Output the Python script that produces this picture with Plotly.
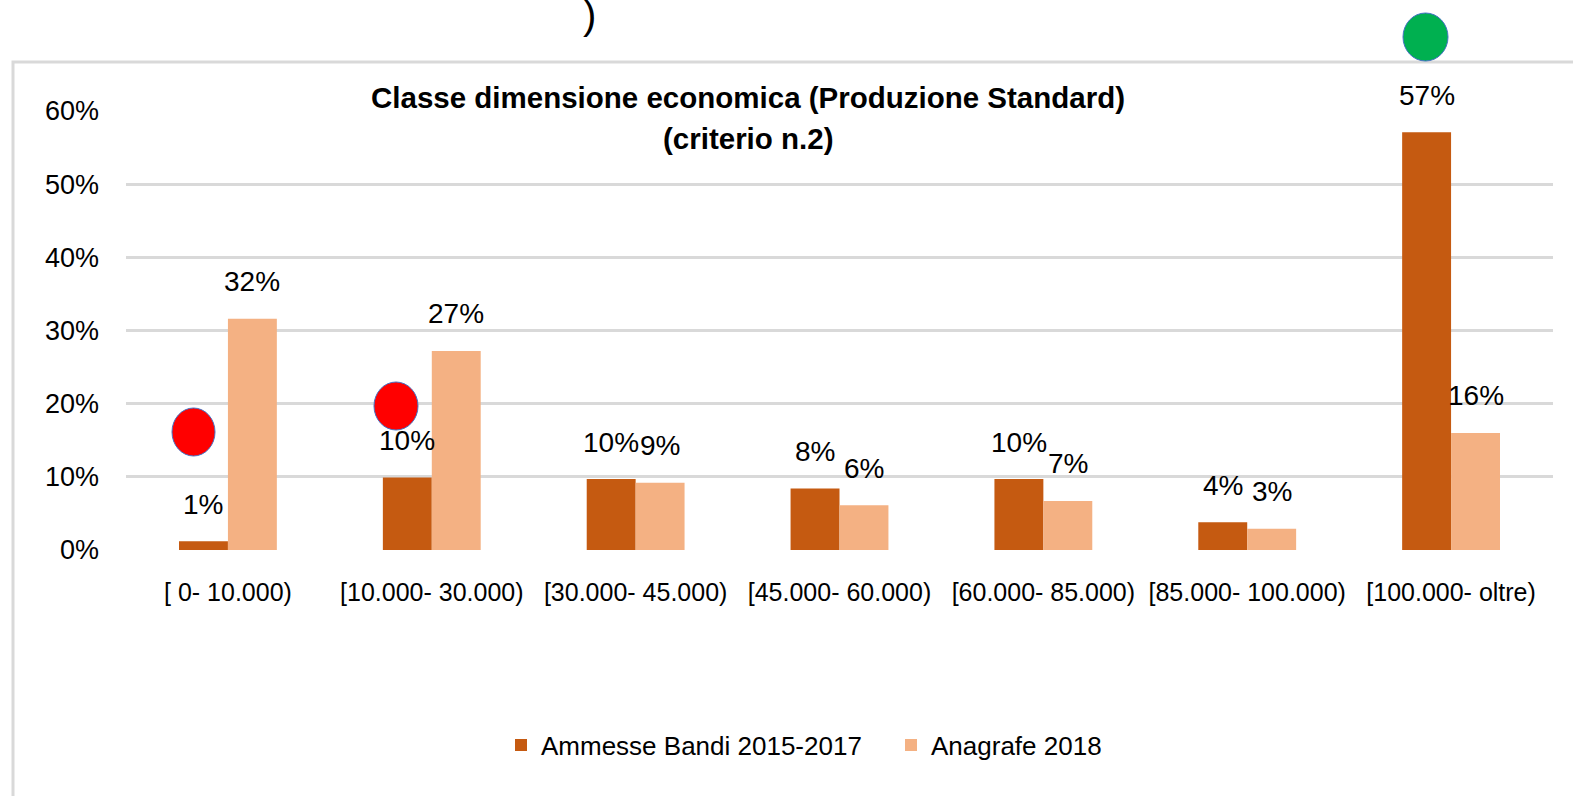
import plotly.graph_objects as go

categories = ["[ 0- 10.000)", "[10.000- 30.000)", "[30.000- 45.000)", "[45.000- 60.000)",
              "[60.000- 85.000)", "[85.000- 100.000)", "[100.000- oltre)"]
ammesse = [1.2, 9.9, 9.7, 8.4, 9.7, 3.8, 57.1]
anagrafe = [31.6, 27.2, 9.2, 6.1, 6.7, 2.9, 16.0]
series_names = ["Ammesse Bandi 2015-2017", "Anagrafe 2018"]
y_ticks = [0, 10, 20, 30, 40, 50, 60]
title_lines = ["Classe dimensione economica (Produzione Standard)", "(criterio n.2)"]

DARK = "#C55A11"
LIGHT = "#F4B183"
GRID = "#D9D9D9"
FONT = "Liberation Sans, Arial"

W, H = 1573, 796
L, R, T, B = 126, 20, 111, 246
PW, PH = W - L - R, H - T - B
BARGAP = 0.52
BW = (1 - BARGAP) / 2


def px(x):
    return (x - L) / PW


def py(y):
    return (H - B - y) / PH


fig = go.Figure()
fig.add_trace(go.Bar(name=series_names[0], x=categories, y=ammesse, marker_color=DARK,
                     marker_line_width=0))
fig.add_trace(go.Bar(name=series_names[1], x=categories, y=anagrafe, marker_color=LIGHT,
                     marker_line_width=0))

annotations = []
for i in range(len(categories)):
    for vals, off in ((ammesse, -BW / 2), (anagrafe, BW / 2)):
        annotations.append(dict(x=i + off, y=vals[i], xref="x", yref="y",
                                text=f"{round(vals[i])}%", showarrow=False,
                                yanchor="middle", yshift=37,
                                font=dict(family=FONT, size=28, color="#000000")))

annotations.append(dict(x=px(748), y=py(97), xref="paper", yref="paper", text=f"<b>{title_lines[0]}</b>",
                        showarrow=False, xanchor="center", yanchor="middle",
                        font=dict(family=FONT, size=29.5, color="#000000")))
annotations.append(dict(x=px(748), y=py(138), xref="paper", yref="paper", text=f"<b>{title_lines[1]}</b>",
                        showarrow=False, xanchor="center", yanchor="middle",
                        font=dict(family=FONT, size=29.5, color="#000000")))
# fragment of text cut at the top of the picture
annotations.append(dict(x=px(589), y=py(15), xref="paper", yref="paper", text=")",
                        showarrow=False, xanchor="center", yanchor="middle",
                        font=dict(family=FONT, size=40, color="#000000")))

shapes = [
    dict(type="rect", xref="paper", yref="paper", x0=px(13), x1=px(1700), y0=py(62), y1=py(900),
         line=dict(color=GRID, width=3), fillcolor="rgba(0,0,0,0)", layer="below"),
    dict(type="circle", xref="paper", yref="paper", x0=px(172), x1=px(215), y0=py(408), y1=py(456),
         fillcolor="#FF0000", line=dict(color="#4472C4", width=1)),
    dict(type="circle", xref="paper", yref="paper", x0=px(374), x1=px(418), y0=py(382), y1=py(430),
         fillcolor="#FF0000", line=dict(color="#4472C4", width=1)),
    dict(type="circle", xref="paper", yref="paper", x0=px(1403), x1=px(1448), y0=py(13), y1=py(61),
         fillcolor="#00B050", line=dict(color="#4472C4", width=1)),
]

fig.update_layout(
    width=W, height=H,
    margin=dict(l=L, r=R, t=T, b=B, pad=0),
    paper_bgcolor="white", plot_bgcolor="white",
    barmode="group", bargap=BARGAP, bargroupgap=0,
    showlegend=True,
    legend=dict(orientation="h", x=px(501), xanchor="left", y=py(745), yanchor="middle",
                font=dict(family=FONT, size=26, color="#000000"),
                entrywidth=345, entrywidthmode="pixels", traceorder="normal"),
    annotations=annotations,
    shapes=shapes,
)
fig.update_yaxes(range=[0, 60], tickvals=y_ticks, ticktext=[f"{v}%" for v in y_ticks],
                 showgrid=True, gridcolor=GRID, gridwidth=2.5, zeroline=False, showline=False,
                 ticklabelstandoff=26,
                 tickfont=dict(family=FONT, size=27, color="#000000"))
fig.update_xaxes(showgrid=False, zeroline=False, showline=False, ticks="",
                 ticklabelstandoff=25,
                 tickfont=dict(family=FONT, size=25, color="#000000"))

fig.write_html("out.html", config={"displayModeBar": False},
               post_script="document.body.style.margin='0';document.body.style.padding='0';")
